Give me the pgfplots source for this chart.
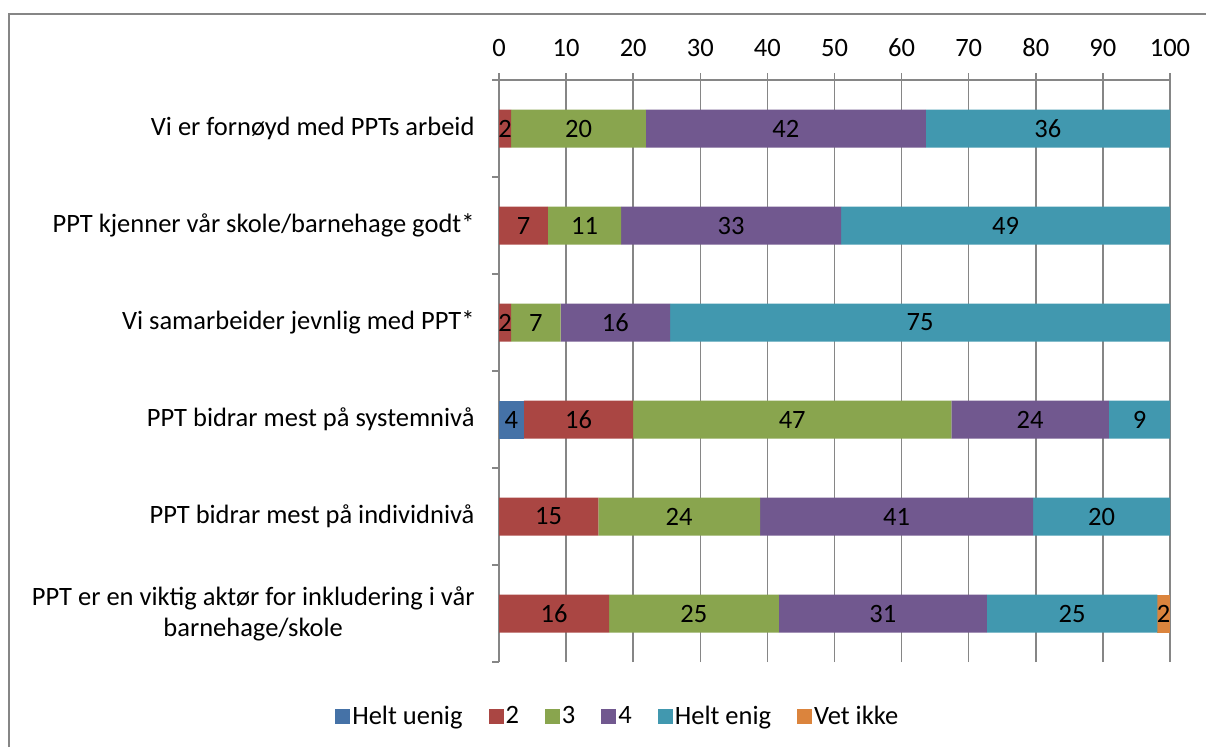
\documentclass[border=0pt]{standalone}
\usepackage{fontspec}
\setmainfont{Carlito}
\usepackage{pgfplots}
\pgfplotsset{compat=1.18}
\usepackage{pgfplotstable}
\definecolor{cA}{HTML}{4572A7}
\definecolor{cB}{HTML}{AA4643}
\definecolor{cC}{HTML}{89A54E}
\definecolor{cD}{HTML}{71588F}
\definecolor{cE}{HTML}{4198AF}
\definecolor{cF}{HTML}{DB843D}
\definecolor{axgray}{HTML}{868686}
\newcommand{\cf}{\fontsize{26.5}{31}\selectfont}
\pgfplotstableread{
idx s1 l1 s2 l2 s3 l3 s4 l4 s5 l5 s6 l6
5 0 {} 1.8 2 20.1 20 41.7 42 36.4 36 0 {}
4 0 {} 7.3 7 10.9 11 32.8 33 49.0 49 0 {}
3 0 {} 1.8 2 7.4 7 16.3 16 74.5 75 0 {}
2 3.7 4 16.3 16 47.4 47 23.5 24 9.1 9 0 {}
1 0 {} 14.8 15 24.1 24 40.7 41 20.4 20 0 {}
0 0 {} 16.4 16 25.3 25 31.0 31 25.4 25 1.9 2
}\datatable
\begin{document}
\begin{tikzpicture}
\useasboundingbox (0pt,0pt) rectangle (1206pt,747pt);
\draw[axgray, line width=1.5pt] (9pt,0pt) -- (9pt,733pt) -- (1206pt,733pt);
\begin{axis}[
  at={(499pt,85pt)}, anchor=south west,
  scale only axis, width=671pt, height=582pt,
  xbar stacked, bar width=38pt,
  xmin=0, xmax=100, ymin=-0.5, ymax=5.5,
  axis x line*=top, axis y line*=left,
  axis line style={axgray, line width=1.5pt},
  xtick={0,10,...,100},
  tick align=outside,
  major tick length=7pt, minor tick length=7pt,
  every tick/.style={axgray, line width=1.5pt},
  every major y tick/.style={draw=none},
  ytick={0,...,5}, minor ytick={-0.5,0.5,...,5.5},
  yticklabels={{PPT er en viktig aktør for inkludering i vår\\barnehage/skole},
    {PPT bidrar mest på individnivå},
    {PPT bidrar mest på systemnivå},
    {Vi samarbeider jevnlig med PPT*},
    {PPT kjenner vår skole/barnehage godt*},
    {Vi er fornøyd med PPTs arbeid}},
  xmajorgrids, major grid style={axgray, line width=1.5pt},
  tick label style={font=\cf, text=black},
  yticklabel style={align=center, xshift=-14pt},
  xticklabel style={yshift=13pt},
  /pgf/number format/assume math mode=true,
  point meta=explicit symbolic,
  nodes near coords,
  nodes near coords style={font=\cf, text=black, anchor=center},
  legend style={at={(0.177,-0.0928)}, anchor=center, draw=none, font=\cf,
    /tikz/every even column/.append style={column sep=24pt}},
  legend columns=-1,
  legend cell align=left,
  legend image code/.code={\fill[#1] (-5pt,-7.5pt) rectangle (10pt,7.5pt);},
]
\addplot[fill=cA, draw=none] table[x=s1, y=idx, meta=l1] {\datatable};
\addplot[fill=cB, draw=none] table[x=s2, y=idx, meta=l2] {\datatable};
\addplot[fill=cC, draw=none] table[x=s3, y=idx, meta=l3] {\datatable};
\addplot[fill=cD, draw=none] table[x=s4, y=idx, meta=l4] {\datatable};
\addplot[fill=cE, draw=none] table[x=s5, y=idx, meta=l5] {\datatable};
\addplot[fill=cF, draw=none] table[x=s6, y=idx, meta=l6] {\datatable};
\legend{Helt uenig, 2, 3, 4, Helt enig, Vet ikke}
\end{axis}
\end{tikzpicture}
\end{document}
